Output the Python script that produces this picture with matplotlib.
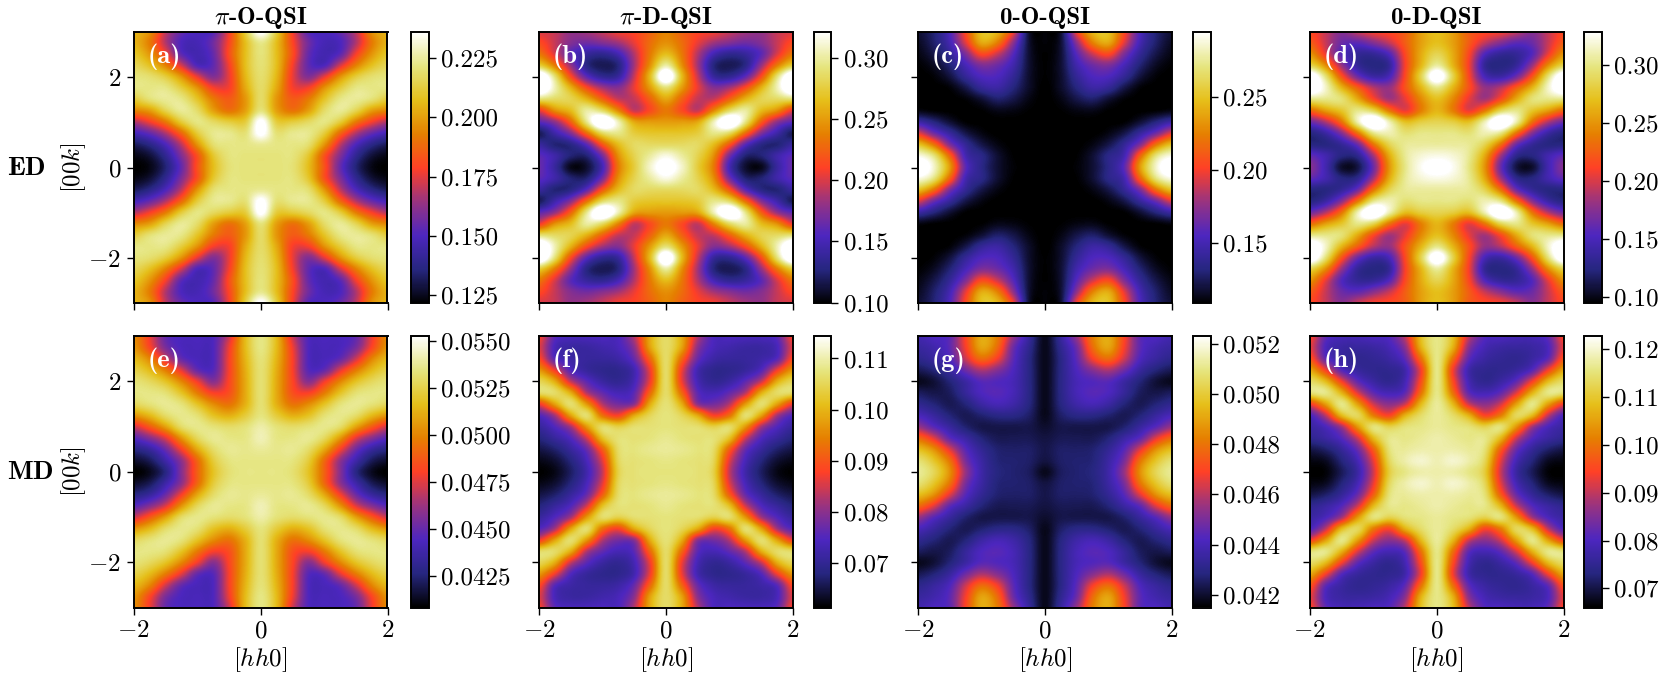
import numpy as np
import matplotlib
matplotlib.use("Agg")
import matplotlib.pyplot as plt

plt.rcParams['mathtext.fontset'] = 'cm'
plt.rcParams['font.family'] = ['cmr10', 'DejaVu Sans']
plt.rcParams['axes.formatter.use_mathtext'] = True

# Quadrant readings: rows k = 0, 0.25 ... 3; columns h = 0, 0.25 ... 2
hh_step = 0.25
kk_step = 0.25

pi_o_ed = [
 [.221,.221,.220,.207,.183,.155,.135,.124,.1216],
 [.221,.221,.221,.210,.183,.160,.140,.128,.124],
 [.224,.222,.222,.219,.198,.170,.150,.138,.132],
 [.238,.220,.223,.223,.212,.188,.168,.155,.148],
 [.238,.212,.212,.217,.222,.212,.192,.178,.168],
 [.221,.200,.190,.200,.218,.224,.215,.200,.195],
 [.218,.198,.185,.192,.209,.222,.224,.220,.212],
 [.218,.202,.178,.178,.197,.212,.222,.222,.222],
 [.219,.205,.176,.160,.175,.197,.212,.219,.221],
 [.220,.207,.178,.154,.150,.172,.193,.208,.216],
 [.221,.207,.182,.155,.147,.153,.178,.198,.210],
 [.223,.207,.180,.157,.148,.150,.168,.192,.205],
 [.238,.212,.178,.152,.150,.155,.170,.197,.205],
]
pi_d_ed = [
 [.330,.310,.275,.235,.150,.110,.105,.140,.165],
 [.315,.300,.280,.245,.170,.125,.125,.145,.160],
 [.285,.285,.285,.265,.220,.160,.130,.125,.140],
 [.270,.270,.275,.295,.285,.230,.175,.145,.118],
 [.250,.250,.255,.305,.350,.295,.225,.180,.160],
 [.235,.215,.195,.240,.285,.300,.265,.245,.205],
 [.255,.225,.195,.195,.225,.260,.280,.285,.290],
 [.290,.250,.205,.175,.185,.215,.260,.305,.350],
 [.345,.265,.195,.140,.135,.160,.215,.290,.350],
 [.300,.245,.185,.128,.118,.130,.180,.235,.275],
 [.265,.235,.190,.150,.135,.140,.160,.200,.235],
 [.245,.230,.205,.185,.175,.168,.175,.195,.215],
 [.240,.225,.212,.208,.195,.185,.180,.195,.200],
]
zero_o_ed = [
 [.108,.108,.110,.118,.135,.160,.235,.285,.310],
 [.108,.108,.109,.118,.135,.150,.215,.270,.290],
 [.108,.108,.108,.112,.122,.140,.170,.220,.250],
 [.108,.108,.108,.108,.112,.122,.142,.165,.195],
 [.108,.108,.108,.108,.108,.109,.118,.132,.145],
 [.108,.109,.112,.113,.109,.108,.108,.109,.112],
 [.108,.112,.122,.128,.118,.110,.108,.108,.108],
 [.108,.116,.132,.145,.140,.122,.110,.108,.108],
 [.109,.117,.140,.155,.155,.140,.120,.110,.108],
 [.109,.118,.148,.165,.170,.152,.130,.115,.109],
 [.109,.118,.158,.190,.205,.170,.140,.122,.112],
 [.110,.118,.175,.225,.240,.195,.150,.128,.115],
 [.110,.118,.200,.245,.250,.205,.155,.130,.118],
]
zero_d_ed = [
 [.335,.325,.300,.250,.165,.110,.105,.145,.175],
 [.322,.318,.303,.260,.185,.130,.125,.145,.160],
 [.305,.305,.303,.285,.235,.165,.135,.125,.125],
 [.300,.300,.295,.310,.300,.235,.175,.140,.125],
 [.285,.280,.270,.310,.355,.310,.235,.190,.165],
 [.265,.240,.205,.235,.285,.300,.275,.255,.230],
 [.270,.245,.205,.185,.215,.260,.295,.300,.300],
 [.300,.265,.220,.180,.190,.225,.265,.315,.350],
 [.345,.285,.215,.150,.140,.165,.220,.295,.350],
 [.305,.265,.210,.135,.125,.135,.180,.245,.285],
 [.285,.260,.215,.155,.135,.135,.155,.205,.250],
 [.270,.255,.225,.195,.175,.160,.165,.195,.225],
 [.270,.255,.225,.215,.210,.195,.175,.195,.215],
]
pi_o_md = [
 [.0535,.0535,.0532,.0518,.0490,.0458,.0428,.0413,.0408],
 [.0535,.0535,.0534,.0522,.0492,.0460,.0438,.0421,.0415],
 [.0538,.0536,.0537,.0530,.0510,.0480,.0452,.0435,.0428],
 [.0542,.0535,.0535,.0537,.0528,.0505,.0475,.0458,.0447],
 [.0540,.0533,.0530,.0533,.0536,.0530,.0508,.0488,.0472],
 [.0534,.0522,.0512,.0518,.0532,.0536,.0530,.0515,.0505],
 [.0532,.0512,.0495,.0502,.0518,.0533,.0537,.0533,.0528],
 [.0532,.0510,.0485,.0480,.0497,.0518,.0532,.0535,.0535],
 [.0532,.0510,.0482,.0458,.0478,.0500,.0518,.0528,.0533],
 [.0532,.0511,.0480,.0447,.0450,.0475,.0497,.0515,.0525],
 [.0533,.0513,.0480,.0445,.0443,.0450,.0472,.0500,.0515],
 [.0535,.0515,.0478,.0445,.0443,.0444,.0455,.0482,.0505],
 [.0535,.0515,.0472,.0445,.0444,.0444,.0450,.0478,.0502],
]
pi_d_md = [
 [.1075,.1075,.1070,.1040,.0840,.0725,.0665,.0625,.0613],
 [.1080,.1075,.1070,.1050,.0860,.0740,.0680,.0640,.0625],
 [.1090,.1085,.1075,.1060,.0910,.0770,.0710,.0670,.0650],
 [.1085,.1075,.1070,.1070,.1015,.0850,.0750,.0710,.0680],
 [.1075,.1070,.1065,.1040,.1060,.0970,.0820,.0750,.0710],
 [.1075,.1050,.0985,.0880,.0930,.1065,.0980,.0820,.0750],
 [.1070,.0990,.0800,.0780,.0830,.0970,.1065,.0980,.0870],
 [.1060,.0920,.0760,.0735,.0765,.0830,.0990,.1060,.1060],
 [.1060,.0870,.0735,.0700,.0715,.0760,.0840,.0990,.1050],
 [.1060,.0870,.0730,.0695,.0695,.0710,.0750,.0870,.0970],
 [.1060,.0920,.0770,.0720,.0710,.0710,.0720,.0755,.0890],
 [.1060,.0980,.0800,.0740,.0725,.0715,.0715,.0740,.0860],
 [.1060,.0990,.0830,.0745,.0745,.0740,.0740,.0760,.0880],
]
zero_o_md = [
 [.0418,.0425,.0427,.0429,.0437,.0455,.0486,.0504,.0512],
 [.0422,.0426,.0427,.0428,.0436,.0450,.0480,.0498,.0508],
 [.0423,.0426,.0426,.0427,.0433,.0444,.0465,.0486,.0496],
 [.0422,.0424,.0424,.0424,.0428,.0436,.0445,.0465,.0478],
 [.0420,.0423,.0423,.0423,.0423,.0427,.0435,.0444,.0455],
 [.0418,.0426,.0430,.0430,.0427,.0424,.0428,.0435,.0441],
 [.0418,.0429,.0437,.0440,.0436,.0428,.0424,.0428,.0432],
 [.0418,.0430,.0440,.0444,.0442,.0434,.0425,.0423,.0425],
 [.0418,.0430,.0440,.0443,.0444,.0436,.0428,.0421,.0418],
 [.0418,.0430,.0442,.0452,.0458,.0448,.0435,.0428,.0424],
 [.0418,.0430,.0445,.0468,.0478,.0462,.0442,.0435,.0431],
 [.0418,.0432,.0448,.0478,.0490,.0468,.0445,.0438,.0435],
 [.0418,.0435,.0455,.0482,.0492,.0470,.0445,.0442,.0438],
]
zero_d_md = [
 [.1180,.1180,.1160,.1110,.0910,.0770,.0710,.0665,.0660],
 [.1185,.1200,.1180,.1130,.0930,.0790,.0730,.0680,.0670],
 [.1180,.1180,.1170,.1150,.0980,.0830,.0760,.0720,.0700],
 [.1180,.1170,.1160,.1160,.1080,.0910,.0810,.0770,.0750],
 [.1170,.1160,.1150,.1120,.1150,.1040,.0880,.0800,.0770],
 [.1170,.1140,.1070,.0950,.1010,.1130,.1080,.0900,.0800],
 [.1170,.1080,.0910,.0860,.0910,.1050,.1160,.1050,.0940],
 [.1160,.1000,.0820,.0790,.0820,.0920,.1070,.1160,.1150],
 [.1160,.0960,.0790,.0750,.0770,.0820,.0940,.1080,.1140],
 [.1160,.0940,.0780,.0750,.0750,.0765,.0810,.0940,.1060],
 [.1160,.1000,.0820,.0770,.0755,.0750,.0770,.0820,.0970],
 [.1160,.1070,.0860,.0790,.0770,.0765,.0770,.0800,.0930],
 [.1160,.1090,.0900,.0810,.0800,.0790,.0790,.0820,.0950],
]

panel_tables = [pi_o_ed, pi_d_ed, zero_o_ed, zero_d_ed,
                pi_o_md, pi_d_md, zero_o_md, zero_d_md]
panel_tags = ['(a)','(b)','(c)','(d)','(e)','(f)','(g)','(h)']
col_titles = [r'$\pi$-O-QSI', r'$\pi$-D-QSI', '0-O-QSI', '0-D-QSI']
row_titles = ['ED', 'MD']
v_limits = [(.1216,.236),(.0992,.3213),(.1084,.2945),(.0943,.328),
            (.04084,.05526),(.0613,.1144),(.0415,.0523),(.066,.1228)]
cbar_ticks = [
 ['0.125','0.150','0.175','0.200','0.225'],
 ['0.10','0.15','0.20','0.25','0.30'],
 ['0.15','0.20','0.25'],
 ['0.10','0.15','0.20','0.25','0.30'],
 ['0.0425','0.0450','0.0475','0.0500','0.0525','0.0550'],
 ['0.07','0.08','0.09','0.10','0.11'],
 ['0.042','0.044','0.046','0.048','0.050','0.052'],
 ['0.07','0.08','0.09','0.10','0.11','0.12'],
]

W, H = 1661, 677
ax_left = [133.5, 539, 918, 1309.5]
ax_w = 254
cb_left = [411, 814, 1193, 1584]
cb_w = 17.5
row_top = [32, 336]
ax_h = 271.5

def rect(x, y_top, w, h):
    return [x/W, 1-(y_top+h)/H, w/W, h/H]

fig = plt.figure(figsize=(W/100, H/100), dpi=100)
FS = 18
for i, tab in enumerate(panel_tables):
    r, c = divmod(i, 4)
    q = np.array(tab)
    upper = np.hstack([q[:, :0:-1], q])
    full = np.vstack([upper[:0:-1], upper])
    ax = fig.add_axes(rect(ax_left[c], row_top[r], ax_w, ax_h))
    ext = (-2-hh_step/2, 2+hh_step/2, -3-kk_step/2, 3+kk_step/2)
    im = ax.imshow(full, origin='lower', extent=ext, aspect='auto', cmap='CMRmap',
                   vmin=v_limits[i][0], vmax=v_limits[i][1], interpolation='catrom')
    ax.set_xlim(-2, 2); ax.set_ylim(-3, 3)
    ax.set_xticks([-2, 0, 2]); ax.set_yticks([-2, 0, 2])
    ax.set_xticklabels(['$-2$', '$0$', '$2$'] if r == 1 else [])
    ax.set_yticklabels(['$-2$', '$0$', '$2$'] if c == 0 else [])
    ax.tick_params(labelsize=FS, length=5, width=1.0, pad=4)
    for s in ax.spines.values():
        s.set_linewidth(1.4)
    if r == 1:
        ax.set_xlabel('$[hh0]$', fontsize=FS, labelpad=2.5)
    if c == 0:
        ax.set_ylabel('$[00k]$', fontsize=FS, labelpad=0)
        fig.text(7/W, 1-(row_top[r]+ax_h/2+1)/H, row_titles[r], family='cmb10',
                 fontsize=19.5, va='center', ha='left')
    if r == 0:
        ax.set_title(col_titles[c], family='cmb10', fontsize=FS, pad=6)
    ax.text(0.055, 0.91, panel_tags[i], color='white', transform=ax.transAxes,
            family='cmb10', fontsize=19, va='center', ha='left')
    cax = fig.add_axes(rect(cb_left[c], row_top[r], cb_w, ax_h))
    cb = fig.colorbar(im, cax=cax)
    vals = [float(t) for t in cbar_ticks[i]]
    cb.set_ticks(vals, labels=cbar_ticks[i])
    cb.ax.tick_params(labelsize=FS, length=5, width=1.0, pad=4)
    cb.outline.set_linewidth(1.4)

fig.savefig('out.png', dpi=100)
